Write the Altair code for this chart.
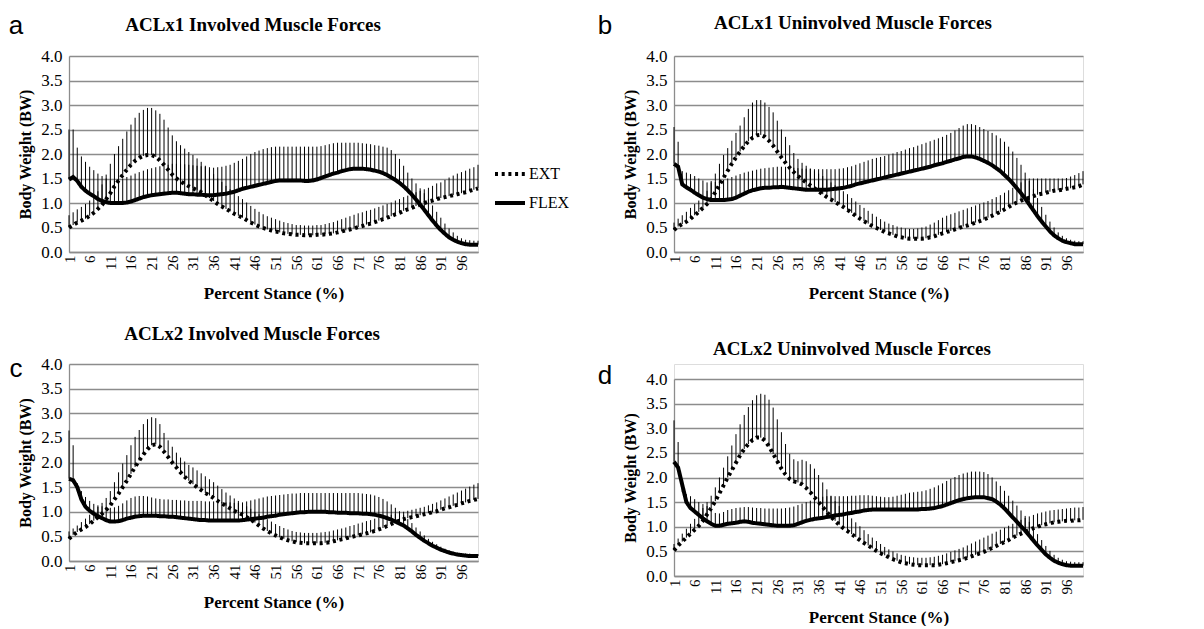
import altair as alt
import pandas as pd

pct = list(range(1, 101))
x_ticks = [1, 6, 11, 16, 21, 26, 31, 36, 41, 46, 51, 56, 61, 66, 71, 76, 81, 86, 91, 96]
y_ticks = [0, 0.5, 1.0, 1.5, 2.0, 2.5, 3.0, 3.5, 4.0]
series_names = ["EXT", "FLEX"]

# ---------------- Panel a: ACLx1 Involved ----------------
a_ext_mean = [0.50,0.55,0.60,0.64,0.68,0.74,0.80,0.88,0.96,1.08,
              1.20,1.34,1.46,1.57,1.68,1.78,1.86,1.92,1.96,1.98,
              1.98,1.94,1.87,1.78,1.68,1.58,1.50,1.44,1.39,1.34,
              1.30,1.26,1.22,1.16,1.10,1.04,0.98,0.93,0.88,0.83,
              0.78,0.74,0.70,0.65,0.60,0.56,0.52,0.49,0.46,0.44,
              0.42,0.40,0.38,0.37,0.36,0.35,0.35,0.34,0.34,0.34,
              0.35,0.35,0.36,0.37,0.38,0.40,0.42,0.44,0.46,0.48,
              0.51,0.53,0.56,0.58,0.61,0.64,0.67,0.70,0.73,0.77,
              0.80,0.84,0.87,0.90,0.94,0.97,1.00,1.03,1.05,1.08,
              1.10,1.12,1.14,1.16,1.18,1.20,1.22,1.25,1.27,1.30]
a_ext_upper = [0.75,0.81,0.87,0.92,0.98,1.05,1.13,1.24,1.38,1.58,
               1.80,2.00,2.16,2.31,2.46,2.60,2.74,2.84,2.90,2.94,
               2.94,2.89,2.82,2.70,2.54,2.38,2.26,2.18,2.11,2.04,
               1.98,1.91,1.84,1.76,1.68,1.59,1.50,1.43,1.35,1.28,
               1.20,1.14,1.08,1.01,0.94,0.88,0.82,0.77,0.73,0.70,
               0.67,0.64,0.61,0.59,0.57,0.55,0.55,0.54,0.54,0.54,
               0.55,0.55,0.57,0.59,0.61,0.64,0.67,0.70,0.73,0.76,
               0.79,0.81,0.84,0.86,0.89,0.92,0.95,0.98,1.01,1.05,
               1.08,1.12,1.15,1.18,1.22,1.25,1.28,1.31,1.35,1.40,
               1.42,1.47,1.52,1.56,1.60,1.63,1.66,1.70,1.73,1.78]
a_flex_mean = [1.48,1.53,1.45,1.33,1.25,1.19,1.14,1.08,1.04,1.02,
               1.00,1.00,1.00,1.00,1.01,1.03,1.06,1.09,1.12,1.14,
               1.16,1.17,1.18,1.19,1.20,1.21,1.21,1.20,1.19,1.18,
               1.18,1.17,1.17,1.16,1.16,1.16,1.17,1.18,1.19,1.21,
               1.23,1.26,1.29,1.31,1.33,1.35,1.37,1.39,1.41,1.43,
               1.45,1.46,1.46,1.46,1.46,1.46,1.46,1.45,1.45,1.46,
               1.48,1.51,1.54,1.57,1.60,1.62,1.65,1.67,1.69,1.70,
               1.70,1.70,1.69,1.68,1.66,1.64,1.61,1.57,1.52,1.47,
               1.41,1.34,1.26,1.17,1.07,0.97,0.86,0.75,0.64,0.54,
               0.45,0.37,0.30,0.25,0.21,0.18,0.16,0.15,0.15,0.15]
a_flex_upper = [2.50,2.50,2.13,1.95,1.84,1.74,1.67,1.60,1.55,1.50,
                1.46,1.45,1.47,1.50,1.53,1.56,1.60,1.63,1.66,1.69,
                1.71,1.73,1.75,1.77,1.78,1.80,1.80,1.80,1.79,1.78,
                1.77,1.76,1.75,1.74,1.73,1.72,1.73,1.74,1.76,1.78,
                1.82,1.86,1.90,1.95,2.00,2.04,2.07,2.10,2.12,2.14,
                2.15,2.15,2.15,2.15,2.15,2.15,2.15,2.15,2.15,2.15,
                2.15,2.16,2.18,2.20,2.22,2.23,2.23,2.23,2.23,2.23,
                2.23,2.22,2.21,2.20,2.18,2.17,2.15,2.13,2.08,2.00,
                1.90,1.76,1.62,1.50,1.40,1.30,1.20,1.08,0.95,0.82,
                0.70,0.58,0.48,0.40,0.33,0.28,0.25,0.24,0.23,0.23]

# ---------------- Panel b: ACLx1 Uninvolved ----------------
b_ext_mean = [0.45,0.52,0.57,0.62,0.68,0.75,0.82,0.90,0.98,1.08,
              1.22,1.37,1.52,1.66,1.80,1.93,2.05,2.16,2.26,2.33,
              2.38,2.39,2.35,2.27,2.17,2.05,1.93,1.82,1.72,1.63,
              1.55,1.48,1.42,1.36,1.30,1.24,1.18,1.12,1.07,1.02,
              0.97,0.92,0.86,0.80,0.74,0.68,0.63,0.58,0.53,0.49,
              0.45,0.41,0.38,0.35,0.32,0.30,0.28,0.27,0.27,0.27,
              0.27,0.28,0.30,0.32,0.35,0.38,0.41,0.43,0.46,0.49,
              0.52,0.54,0.57,0.60,0.63,0.66,0.70,0.74,0.78,0.82,
              0.87,0.92,0.97,1.01,1.05,1.08,1.11,1.14,1.17,1.19,
              1.21,1.23,1.25,1.26,1.27,1.29,1.30,1.32,1.34,1.38]
b_ext_upper = [0.60,0.68,0.75,0.82,0.90,0.98,1.05,1.13,1.25,1.45,
               1.60,1.80,1.98,2.12,2.27,2.43,2.58,2.75,2.92,3.05,
               3.10,3.10,3.05,2.96,2.85,2.68,2.50,2.35,2.18,2.02,
               1.90,1.82,1.76,1.70,1.65,1.60,1.55,1.48,1.42,1.36,
               1.30,1.24,1.18,1.10,1.03,0.96,0.90,0.84,0.78,0.72,
               0.67,0.62,0.58,0.55,0.52,0.50,0.48,0.47,0.47,0.48,
               0.50,0.52,0.56,0.60,0.65,0.70,0.74,0.77,0.80,0.83,
               0.86,0.89,0.92,0.95,0.98,1.01,1.04,1.08,1.12,1.16,
               1.21,1.26,1.31,1.36,1.42,1.48,1.50,1.50,1.50,1.50,
               1.50,1.50,1.50,1.50,1.50,1.51,1.54,1.57,1.61,1.65]
b_flex_mean = [1.80,1.74,1.38,1.32,1.27,1.21,1.16,1.11,1.08,1.06,
               1.06,1.06,1.06,1.07,1.08,1.11,1.15,1.19,1.23,1.26,
               1.28,1.30,1.31,1.31,1.32,1.32,1.33,1.32,1.31,1.30,
               1.29,1.28,1.27,1.27,1.27,1.27,1.27,1.27,1.28,1.29,
               1.30,1.31,1.33,1.35,1.38,1.40,1.42,1.44,1.46,1.48,
               1.50,1.52,1.54,1.56,1.58,1.60,1.62,1.64,1.66,1.68,
               1.70,1.72,1.74,1.77,1.79,1.81,1.84,1.86,1.89,1.91,
               1.94,1.95,1.95,1.93,1.90,1.86,1.82,1.77,1.71,1.65,
               1.57,1.49,1.40,1.30,1.20,1.09,0.97,0.85,0.73,0.62,
               0.52,0.42,0.34,0.28,0.23,0.20,0.18,0.16,0.16,0.16]
b_flex_upper = [2.55,2.25,1.65,1.62,1.59,1.55,1.50,1.46,1.42,1.42,
                1.43,1.45,1.47,1.50,1.53,1.56,1.59,1.62,1.64,1.66,
                1.68,1.70,1.71,1.72,1.73,1.74,1.74,1.74,1.73,1.72,
                1.71,1.70,1.70,1.70,1.69,1.69,1.69,1.69,1.69,1.69,
                1.70,1.71,1.73,1.75,1.78,1.81,1.84,1.87,1.90,1.92,
                1.94,1.96,1.99,2.01,2.04,2.06,2.09,2.12,2.14,2.17,
                2.20,2.23,2.26,2.29,2.32,2.35,2.39,2.43,2.48,2.53,
                2.58,2.61,2.61,2.59,2.55,2.51,2.47,2.43,2.38,2.32,
                2.25,2.15,2.05,1.92,1.78,1.62,1.45,1.28,1.10,0.92,
                0.76,0.62,0.50,0.40,0.33,0.28,0.25,0.23,0.22,0.22]

# ---------------- Panel c: ACLx2 Involved ----------------
c_ext_mean = [0.45,0.53,0.59,0.64,0.69,0.75,0.82,0.89,0.96,1.04,
              1.13,1.25,1.37,1.50,1.63,1.77,1.91,2.04,2.16,2.27,
              2.35,2.37,2.32,2.22,2.11,2.00,1.90,1.80,1.71,1.63,
              1.56,1.50,1.44,1.38,1.33,1.28,1.22,1.17,1.12,1.07,
              1.02,0.98,0.94,0.89,0.84,0.78,0.72,0.66,0.61,0.56,
              0.52,0.48,0.45,0.42,0.40,0.38,0.37,0.36,0.36,0.36,
              0.36,0.36,0.37,0.38,0.40,0.42,0.44,0.46,0.48,0.50,
              0.52,0.54,0.56,0.58,0.61,0.64,0.67,0.71,0.75,0.79,
              0.82,0.85,0.87,0.89,0.91,0.93,0.95,0.97,0.99,1.01,
              1.04,1.07,1.09,1.12,1.14,1.17,1.19,1.22,1.24,1.26]
c_ext_upper = [0.60,0.66,0.72,0.79,0.86,0.94,1.02,1.10,1.18,1.28,
               1.42,1.60,1.80,1.98,2.15,2.35,2.52,2.66,2.78,2.88,
               2.92,2.90,2.78,2.60,2.45,2.32,2.20,2.10,2.02,1.95,
               1.90,1.84,1.78,1.72,1.66,1.60,1.53,1.46,1.39,1.33,
               1.27,1.22,1.17,1.11,1.06,1.00,0.95,0.90,0.85,0.80,
               0.75,0.71,0.67,0.64,0.61,0.59,0.58,0.57,0.57,0.57,
               0.57,0.58,0.59,0.60,0.62,0.64,0.66,0.68,0.71,0.73,
               0.76,0.78,0.81,0.83,0.86,0.88,0.90,0.92,0.94,0.96,
               0.98,1.00,1.02,1.04,1.06,1.08,1.10,1.13,1.16,1.19,
               1.23,1.27,1.31,1.35,1.39,1.43,1.47,1.51,1.55,1.58]
c_flex_mean = [1.67,1.64,1.50,1.25,1.10,1.02,0.96,0.91,0.87,0.83,
               0.80,0.80,0.81,0.83,0.86,0.88,0.90,0.91,0.92,0.92,
               0.92,0.92,0.91,0.91,0.90,0.90,0.89,0.88,0.87,0.86,
               0.85,0.84,0.83,0.83,0.82,0.82,0.82,0.82,0.82,0.82,
               0.82,0.82,0.83,0.84,0.85,0.86,0.87,0.88,0.90,0.91,
               0.92,0.94,0.95,0.96,0.97,0.98,0.99,0.99,1.00,1.00,
               1.00,1.00,1.00,0.99,0.99,0.98,0.98,0.98,0.97,0.97,
               0.97,0.96,0.96,0.95,0.94,0.92,0.90,0.87,0.84,0.80,
               0.76,0.72,0.66,0.60,0.53,0.47,0.41,0.36,0.31,0.27,
               0.23,0.20,0.17,0.15,0.13,0.12,0.11,0.10,0.10,0.10]
c_flex_upper = [2.65,2.35,1.58,1.42,1.30,1.22,1.16,1.13,1.11,1.09,
                1.08,1.09,1.12,1.17,1.23,1.28,1.31,1.32,1.32,1.31,
                1.29,1.27,1.26,1.25,1.25,1.24,1.24,1.23,1.23,1.22,
                1.22,1.22,1.22,1.21,1.21,1.21,1.20,1.20,1.19,1.19,
                1.18,1.18,1.19,1.21,1.23,1.25,1.27,1.29,1.31,1.32,
                1.33,1.34,1.35,1.36,1.37,1.37,1.38,1.38,1.38,1.38,
                1.38,1.38,1.38,1.38,1.38,1.38,1.38,1.38,1.38,1.38,
                1.38,1.37,1.36,1.35,1.33,1.30,1.26,1.21,1.15,1.08,
                1.01,0.93,0.85,0.77,0.68,0.60,0.52,0.45,0.39,0.34,
                0.29,0.25,0.22,0.19,0.17,0.16,0.15,0.15,0.14,0.14]

# ---------------- Panel d: ACLx2 Uninvolved ----------------
d_ext_mean = [0.52,0.62,0.70,0.78,0.86,0.94,1.02,1.12,1.25,1.38,
              1.52,1.68,1.84,2.00,2.15,2.30,2.45,2.58,2.68,2.76,
              2.81,2.81,2.75,2.63,2.48,2.33,2.18,2.06,1.97,1.92,
              1.90,1.86,1.79,1.70,1.60,1.50,1.40,1.30,1.20,1.12,
              1.04,0.97,0.91,0.85,0.79,0.73,0.67,0.62,0.56,0.51,
              0.46,0.42,0.38,0.34,0.31,0.28,0.26,0.24,0.23,0.22,
              0.22,0.22,0.22,0.22,0.23,0.24,0.26,0.28,0.30,0.32,
              0.34,0.37,0.40,0.43,0.46,0.49,0.53,0.57,0.61,0.65,
              0.69,0.73,0.78,0.82,0.86,0.90,0.94,0.97,1.00,1.03,
              1.05,1.07,1.09,1.10,1.11,1.12,1.12,1.13,1.13,1.14]
d_ext_upper = [0.65,0.76,0.86,0.96,1.06,1.16,1.26,1.38,1.50,1.63,
               1.80,2.00,2.20,2.43,2.65,2.88,3.08,3.27,3.43,3.57,
               3.67,3.70,3.68,3.58,3.42,3.18,2.92,2.68,2.48,2.37,
               2.33,2.36,2.33,2.27,2.18,2.05,1.90,1.76,1.63,1.52,
               1.42,1.33,1.25,1.17,1.09,1.01,0.93,0.85,0.78,0.71,
               0.65,0.59,0.54,0.50,0.46,0.43,0.41,0.39,0.38,0.37,
               0.37,0.37,0.38,0.39,0.41,0.43,0.46,0.49,0.52,0.55,
               0.58,0.62,0.66,0.70,0.74,0.78,0.82,0.86,0.90,0.94,
               0.98,1.02,1.06,1.10,1.14,1.18,1.21,1.24,1.27,1.29,
               1.31,1.33,1.34,1.35,1.36,1.37,1.38,1.39,1.39,1.40]
d_flex_mean = [2.32,2.20,1.85,1.50,1.38,1.31,1.24,1.17,1.11,1.06,
               1.02,1.02,1.04,1.06,1.07,1.08,1.10,1.11,1.10,1.08,
               1.07,1.06,1.05,1.04,1.03,1.02,1.02,1.02,1.02,1.03,
               1.06,1.09,1.12,1.14,1.16,1.17,1.18,1.20,1.21,1.23,
               1.24,1.25,1.27,1.28,1.30,1.31,1.33,1.34,1.35,1.35,
               1.35,1.35,1.35,1.35,1.35,1.35,1.35,1.35,1.35,1.35,
               1.36,1.36,1.37,1.38,1.40,1.42,1.45,1.48,1.51,1.54,
               1.56,1.58,1.59,1.60,1.60,1.60,1.58,1.56,1.51,1.45,
               1.37,1.28,1.19,1.10,1.01,0.92,0.82,0.72,0.62,0.53,
               0.44,0.37,0.31,0.27,0.24,0.22,0.21,0.21,0.21,0.21]
d_flex_upper = [3.16,2.72,1.70,1.66,1.62,1.56,1.50,1.46,1.42,1.36,
                1.28,1.27,1.30,1.34,1.36,1.38,1.39,1.40,1.40,1.39,
                1.38,1.38,1.37,1.37,1.37,1.37,1.37,1.38,1.39,1.41,
                1.44,1.47,1.50,1.53,1.56,1.59,1.61,1.62,1.62,1.62,
                1.62,1.62,1.62,1.63,1.63,1.64,1.64,1.64,1.63,1.62,
                1.61,1.60,1.60,1.61,1.63,1.65,1.67,1.69,1.70,1.71,
                1.72,1.74,1.77,1.80,1.84,1.88,1.93,1.97,2.01,2.05,
                2.08,2.10,2.12,2.12,2.12,2.11,2.07,2.00,1.92,1.83,
                1.73,1.63,1.53,1.43,1.33,1.22,1.10,0.98,0.85,0.73,
                0.61,0.51,0.43,0.37,0.33,0.30,0.29,0.28,0.28,0.28]

SERIF = "Liberation Serif"
GRAY = "#8c8c8c"
PLOT_W = 409


def panel(title, letter, ext_m, ext_u, flex_m, flex_u, height, y_range,
          title_x, title_y, letter_x, letter_y, legend_y):
    df = pd.DataFrame({
        "pct": pct + pct,
        "series": ["EXT"] * len(pct) + ["FLEX"] * len(pct),
        "mean": ext_m + flex_m,
        "upper": ext_u + flex_u,
    })
    if y_range is not None:
        yscale = alt.Scale(domain=[0, 4], nice=False, zero=True, range=y_range)
    else:
        yscale = alt.Scale(domain=[0, 4], nice=False, zero=True)
    x_axis = alt.Axis(values=x_ticks, labelAngle=270, labelFont=SERIF,
                      labelFontSize=15, labelColor="black", ticks=False,
                      grid=False, domainColor=GRAY, domainWidth=1.3,
                      labelPadding=3, labelFlush=False, labelOverlap=False,
                      labelBound=False,
                      title="Percent Stance (%)", titleFont=SERIF,
                      titleFontSize=17, titleFontWeight="bold",
                      titleColor="black", titlePadding=15)
    y_axis = alt.Axis(values=y_ticks, format=".1f", labelFont=SERIF,
                      labelFontSize=17, labelColor="black", ticks=False,
                      grid=True, gridColor=GRAY, gridWidth=1.3,
                      domainColor=GRAY, domainWidth=1.3, labelPadding=7,
                      labelOverlap=False, labelFlush=False, labelBound=False,
                      title="Body Weight (BW)", titleFont=SERIF,
                      titleFontSize=16, titleFontWeight="bold",
                      titleColor="black", titlePadding=7)
    x_scale = alt.Scale(domain=[1, 100], nice=False, zero=False)
    base = alt.Chart(df)
    bars = base.mark_rule(color="black", strokeWidth=1).encode(
        x=alt.X("pct:Q", scale=x_scale, axis=x_axis),
        y=alt.Y("mean:Q", scale=yscale, axis=y_axis),
        y2="upper:Q")
    lines = base.mark_line(color="black", strokeWidth=4).encode(
        x=alt.X("pct:Q", scale=x_scale, axis=x_axis),
        y=alt.Y("mean:Q", scale=yscale, axis=y_axis),
        strokeDash=alt.StrokeDash(
            "series:N",
            scale=alt.Scale(domain=series_names, range=[[3, 3.7], [1, 0]]),
            legend=alt.Legend(title=None, orient="none", legendX=PLOT_W + 15,
                              legendY=legend_y, symbolType="stroke",
                              symbolSize=900, symbolStrokeWidth=4,
                              symbolStrokeColor="black", labelFont=SERIF,
                              labelFontSize=16, labelColor="black",
                              rowPadding=4, labelOffset=2)))
    tag = alt.Chart(pd.DataFrame({"label": [letter]})).mark_text(
        font="Liberation Sans", fontSize=26, color="black",
        align="center", baseline="middle").encode(
        text="label:N", x=alt.value(letter_x), y=alt.value(letter_y))
    head = alt.Chart(pd.DataFrame({"label": [title]})).mark_text(
        font=SERIF, fontSize=19, fontWeight="bold", color="black",
        align="center", baseline="middle").encode(
        text="label:N", x=alt.value(title_x), y=alt.value(title_y))
    return alt.layer(bars, lines, tag, head).properties(width=PLOT_W, height=height)


pa = panel("ACLx1 Involved Muscle Forces", "a", a_ext_mean, a_ext_upper,
           a_flex_mean, a_flex_upper, 196, None, 184, -31, -53, -30, 101)
pb = panel("ACLx1 Uninvolved  Muscle Forces", "b", b_ext_mean, b_ext_upper,
           b_flex_mean, b_flex_upper, 196, None, 179, -33, -69, -30, 95)
pc = panel("ACLx2 Involved  Muscle Forces", "c", c_ext_mean, c_ext_upper,
           c_flex_mean, c_flex_upper, 197, None, 183, -30, -53, 5, 100)
pd_ = panel("ACLx2 Uninvolved  Muscle Forces", "d", d_ext_mean, d_ext_upper,
            d_flex_mean, d_flex_upper, 212, [212, 15], 178, -15, -69, 12, 113)

chart = alt.concat(pa, pb, pc, pd_, columns=2,
                   spacing={"row": 112, "column": 196},
                   bounds="flush").properties(
    padding={"left": 0, "top": 4, "right": 0, "bottom": 0}).configure_view(
    stroke="transparent").configure(background="white")

chart.save("out.html", embed_options={"renderer": "svg", "actions": False})
